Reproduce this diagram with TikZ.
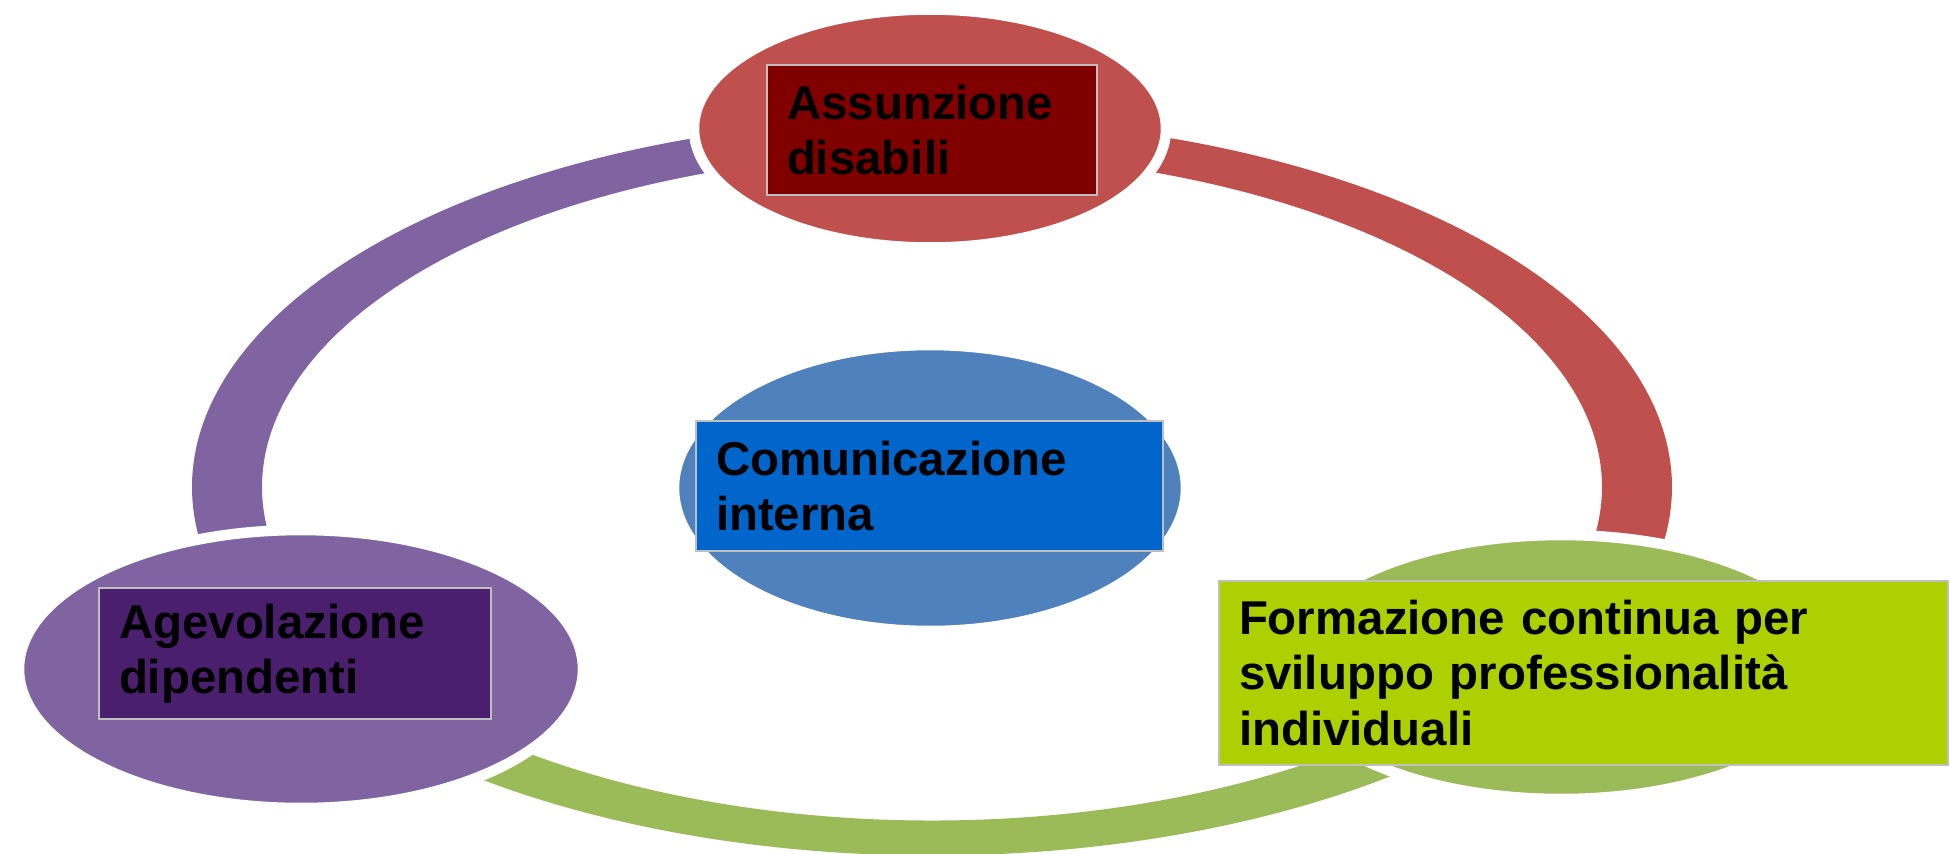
\documentclass[tikz,border=0pt]{standalone}
\usepackage{fontspec}
\setmainfont{Liberation Sans}
\usepackage{tikz}
\usetikzlibrary{shapes.geometric}
\usetikzlibrary{calc}

\definecolor{rossoOvale}{RGB}{192,80,77}
\definecolor{violaOvale}{RGB}{128,100,162}
\definecolor{verdeOvale}{RGB}{155,187,89}
\definecolor{bluOvale}{RGB}{79,129,189}
\definecolor{rossoScuro}{RGB}{128,0,0}
\definecolor{violaScuro}{RGB}{74,31,110}
\definecolor{bluScuro}{RGB}{0,102,204}
\definecolor{verdeLime}{RGB}{174,207,0}

\tikzset{
    ovale/.style={ellipse, inner sep=0pt, draw=white, line width=3pt},
    riquadro/.style={rectangle, draw=white!75!black, line width=0.4pt, inner xsep=0.2cm, inner ysep=0pt,
        align=left, text=black, font=\fontsize{13.5}{15.8}\selectfont\bfseries}
}

\newcommand{\settore}[3]{%
    \fill[#1] ($(anello)+(#2:7.4 and 3.685)$) arc[start angle=#2, end angle=#3, x radius=7.4, y radius=3.685]
        -- ($(anello)+(#3:6.7 and 3.335)$) arc[start angle=#3, end angle=#2, x radius=6.7, y radius=3.335] -- cycle;}

\begin{document}
\begin{tikzpicture}
    \useasboundingbox (0,0) rectangle (19.5,-8.53);
    \coordinate (anello) at (9.32,-4.87);

    \settore{violaOvale}{100}{195}
    \settore{rossoOvale}{80}{-15}
    \settore{verdeOvale}{225}{320}

    \node[ovale, fill=rossoOvale, minimum width=4.72cm, minimum height=2.38cm] (ovAss) at (9.30,-1.285) {};
    \node[ovale, fill=bluOvale, minimum width=5.12cm, minimum height=2.86cm] (ovCom) at (9.30,-4.88) {};
    \node[ovale, fill=violaOvale, minimum width=5.64cm, minimum height=2.78cm] (ovAge) at (3.01,-6.69) {};
    \node[ovale, fill=verdeOvale, minimum width=5.54cm, minimum height=2.64cm] (ovFor) at (15.61,-6.67) {};

    \node[riquadro, fill=rossoScuro, text width=2.90cm, minimum height=1.30cm] (assunzione) at (9.32,-1.30) {Assunzione\\disabili};
    \node[riquadro, fill=bluScuro, text width=4.27cm, minimum height=1.30cm] (comunicazione) at (9.295,-4.86) {Comunicazione\\interna};
    \node[riquadro, fill=violaScuro, text width=3.52cm, minimum height=1.31cm] (agevolazione) at (2.95,-6.535) {Agevolazione\\dipendenti};
    \node[riquadro, fill=verdeLime, text width=6.89cm, minimum height=1.84cm] (formazione) at (15.835,-6.73) {Formazione continua per\\sviluppo professionalità\\individuali};
\end{tikzpicture}
\end{document}
